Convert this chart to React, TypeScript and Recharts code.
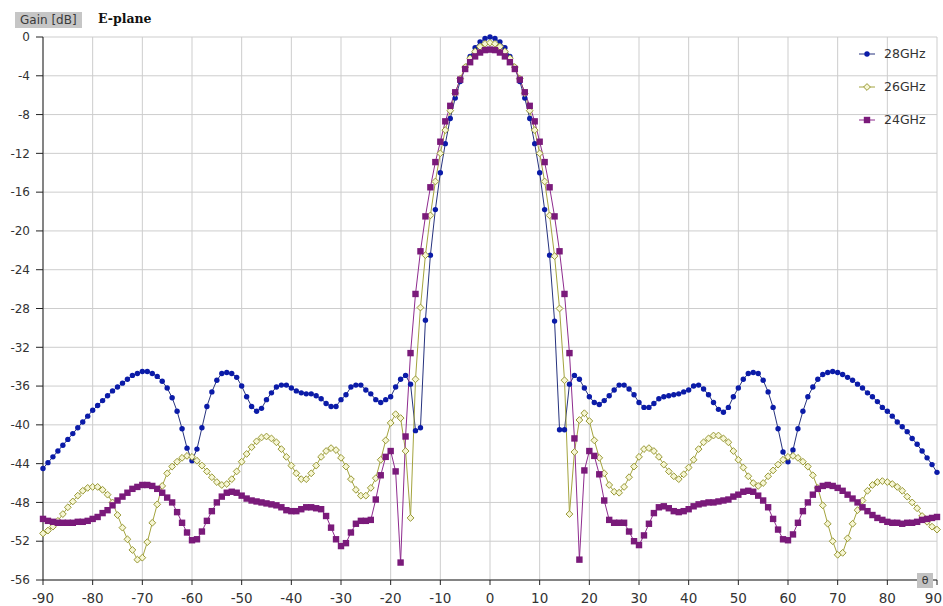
import React from "react";
import { LineChart, Line, XAxis, YAxis, CartesianGrid } from "recharts";

// angle in degrees, one sample per degree
const theta = [
  -90, -89, -88, -87, -86, -85, -84, -83, -82, -81,
  -80, -79, -78, -77, -76, -75, -74, -73, -72, -71,
  -70, -69, -68, -67, -66, -65, -64, -63, -62, -61,
  -60, -59, -58, -57, -56, -55, -54, -53, -52, -51,
  -50, -49, -48, -47, -46, -45, -44, -43, -42, -41,
  -40, -39, -38, -37, -36, -35, -34, -33, -32, -31,
  -30, -29, -28, -27, -26, -25, -24, -23, -22, -21,
  -20, -19, -18, -17, -16, -15, -14, -13, -12, -11,
  -10, -9, -8, -7, -6, -5, -4, -3, -2, -1,
  0,
  1, 2, 3, 4, 5, 6, 7, 8, 9, 10,
  11, 12, 13, 14, 15, 16, 17, 18, 19, 20,
  21, 22, 23, 24, 25, 26, 27, 28, 29, 30,
  31, 32, 33, 34, 35, 36, 37, 38, 39, 40,
  41, 42, 43, 44, 45, 46, 47, 48, 49, 50,
  51, 52, 53, 54, 55, 56, 57, 58, 59, 60,
  61, 62, 63, 64, 65, 66, 67, 68, 69, 70,
  71, 72, 73, 74, 75, 76, 77, 78, 79, 80,
  81, 82, 83, 84, 85, 86, 87, 88, 89, 90,
];

const gain28 = [
  -44.5, -43.9, -43.3, -42.7, -42.1, -41.5, -40.9, -40.3, -39.7, -39.1,
  -38.5, -38.0, -37.5, -37.0, -36.5, -36.1, -35.7, -35.3, -34.9, -34.7,
  -34.5, -34.5, -34.7, -35.0, -35.5, -36.2, -37.2, -38.6, -40.4, -42.4,
  -43.7, -42.5, -40.3, -38.1, -36.6, -35.4, -34.7, -34.6, -34.7, -35.1,
  -36.0, -37.1, -38.1, -38.6, -38.3, -37.4, -36.7, -36.1, -35.9, -35.9,
  -36.2, -36.5, -36.7, -36.8, -36.8, -37.0, -37.3, -37.8, -38.1, -38.1,
  -37.4, -36.9, -36.1, -35.9, -35.9, -36.4, -36.8, -37.4, -37.7, -37.4,
  -37.1, -36.1, -35.3, -34.9, -35.8, -40.6, -40.3, -29.2, -22.5, -17.8,
  -14.0, -11.0, -8.4, -6.3, -4.6, -3.2, -2.0, -1.1, -0.5, -0.15,
  0,
  -0.15, -0.5, -1.1, -2.0, -3.2, -4.6, -6.3, -8.4, -11.0, -14.0,
  -17.8, -22.5, -29.3, -40.5, -40.5, -35.8, -34.9, -35.3, -36.2, -37.1,
  -37.7, -37.9, -37.5, -37.0, -36.4, -35.9, -35.9, -36.3, -36.9, -37.7,
  -38.2, -38.2, -37.8, -37.3, -37.1, -37.0, -36.9, -36.8, -36.6, -36.4,
  -36.0, -35.9, -36.3, -36.9, -37.7, -38.4, -38.7, -38.2, -37.1, -36.2,
  -35.3, -34.7, -34.6, -34.7, -35.4, -36.6, -38.2, -40.4, -42.8, -43.8,
  -42.6, -40.4, -38.6, -37.1, -36.1, -35.3, -34.8, -34.6, -34.5, -34.6,
  -34.8, -35.1, -35.4, -35.8, -36.2, -36.7, -37.1, -37.6, -38.2, -38.6,
  -39.1, -39.7, -40.2, -40.7, -41.4, -42.0, -42.7, -43.4, -44.1, -44.9,
];

const gain26 = [
  -51.2, -50.9, -50.5, -49.9, -49.2, -48.5, -47.9, -47.3, -46.8, -46.5,
  -46.4, -46.4, -46.7, -47.2, -48.0, -49.3, -50.6, -51.8, -52.9, -53.9,
  -53.7, -52.1, -50.1, -48.2, -46.3, -45.0, -44.3, -43.8, -43.4, -43.2,
  -43.3, -43.7, -44.2, -44.8, -45.4, -45.9, -46.2, -46.1, -45.6, -44.8,
  -43.8, -43.0, -42.3, -41.7, -41.3, -41.2, -41.4, -41.8, -42.5, -43.3,
  -44.2, -45.0, -45.6, -45.6, -45.0, -44.2, -43.3, -42.7, -42.4, -42.6,
  -43.4, -44.3, -45.6, -46.7, -47.3, -47.3, -46.5, -45.5, -43.6, -41.6,
  -39.8, -38.9, -39.3, -42.7, -49.6, -35.3, -27.9, -22.5, -18.4, -14.9,
  -12.0, -9.6, -7.6, -5.8, -4.3, -3.1, -2.2, -1.5, -1.0, -0.7,
  -0.6,
  -0.7, -1.0, -1.5, -2.2, -3.1, -4.3, -5.8, -7.6, -9.6, -12.0,
  -14.9, -18.4, -22.6, -28.0, -35.4, -49.2, -42.8, -39.5, -38.8, -39.6,
  -41.6, -43.4, -45.0, -46.2, -46.9, -47.0, -46.4, -45.4, -44.3, -43.3,
  -42.5, -42.4, -42.7, -43.3, -44.1, -44.8, -45.3, -45.6, -45.1, -44.4,
  -43.6, -42.5, -41.8, -41.4, -41.1, -41.1, -41.4, -41.8, -42.7, -43.6,
  -44.4, -45.3, -46.0, -46.3, -46.0, -45.3, -44.7, -44.1, -43.6, -43.3,
  -43.2, -43.4, -43.8, -44.3, -45.2, -46.5, -48.3, -50.2, -52.0, -53.4,
  -53.2, -51.7, -50.2, -48.8, -47.8, -46.8, -46.2, -45.9, -45.8, -45.9,
  -46.1, -46.4, -46.8, -47.4, -48.0, -48.6, -49.4, -50.0, -50.5, -50.8,
];

const gain24 = [
  -49.7, -49.9, -50.0, -50.1, -50.1, -50.1, -50.1, -50.0, -50.0, -49.9,
  -49.7, -49.5, -49.1, -48.8, -48.3, -47.8, -47.4, -47.0, -46.6, -46.4,
  -46.2, -46.2, -46.3, -46.6, -47.0, -47.5, -48.0, -49.0, -50.1, -51.1,
  -51.9, -51.8, -51.0, -49.9, -48.9, -48.0, -47.4, -47.0, -46.9, -47.0,
  -47.3, -47.6, -47.8, -47.9, -48.0, -48.1, -48.2, -48.3, -48.5, -48.8,
  -48.9, -48.9, -48.7, -48.5, -48.5, -48.6, -48.7, -49.4, -50.6, -51.8,
  -52.5, -52.2, -51.1, -50.2, -49.9, -49.9, -49.8, -47.7, -45.2, -43.3,
  -42.7, -44.8, -54.2, -41.2, -32.6, -26.5, -22.1, -18.5, -15.5, -12.9,
  -10.8, -8.7, -7.1, -5.7, -4.4, -3.3, -2.6, -2.0, -1.6, -1.35,
  -1.3,
  -1.35, -1.6, -2.0, -2.6, -3.3, -4.4, -5.7, -7.1, -8.7, -10.8,
  -12.9, -15.5, -18.5, -22.1, -26.5, -32.6, -41.4, -53.9, -44.7, -42.7,
  -43.2, -45.1, -47.8, -49.8, -50.1, -50.1, -50.1, -51.0, -52.0, -52.4,
  -51.4, -50.2, -49.1, -48.5, -48.4, -48.6, -48.9, -49.0, -48.9, -48.7,
  -48.4, -48.2, -48.1, -48.0, -48.0, -47.9, -47.8, -47.7, -47.4, -47.2,
  -46.9, -46.8, -46.9, -47.3, -47.8, -48.5, -49.7, -50.8, -51.8, -51.9,
  -51.3, -50.1, -48.9, -48.0, -47.2, -46.6, -46.3, -46.2, -46.3, -46.5,
  -46.8, -47.2, -47.6, -48.0, -48.5, -48.9, -49.3, -49.6, -49.8, -50.0,
  -50.1, -50.1, -50.2, -50.1, -50.1, -50.0, -49.8, -49.7, -49.6, -49.5,
];

const xTicks = [-90, -80, -70, -60, -50, -40, -30, -20, -10, 0, 10, 20, 30, 40, 50, 60, 70, 80, 90];
const yTicks = [0, -4, -8, -12, -16, -20, -24, -28, -32, -36, -40, -44, -48, -52, -56];
const seriesNames = ["28GHz", "26GHz", "24GHz"];

const chartData = theta.map((t, i) => ({
  theta: t,
  g28: gain28[i],
  g26: gain26[i],
  g24: gain24[i],
}));

const BLUE_LINE = "#26327e";
const BLUE_DOT = "#0b1ba8";
const OLIVE_LINE = "#a4a43e";
const OLIVE_DOT = "#989836";
const PURPLE_LINE = "#8e2b8e";
const PURPLE_DOT = "#7a1a7a";

const CircleDot = (props: any) => {
  const { cx, cy, index } = props;
  if (cx == null || cy == null) return <g key={`c${index}`} />;
  return <circle key={`c${index}`} cx={cx} cy={cy} r={2.7} fill={BLUE_DOT} />;
};

const DiamondDot = (props: any) => {
  const { cx, cy, index } = props;
  if (cx == null || cy == null) return <g key={`d${index}`} />;
  const s = 3.4;
  return (
    <polygon
      key={`d${index}`}
      points={`${cx},${cy - s} ${cx + s},${cy} ${cx},${cy + s} ${cx - s},${cy}`}
      fill="#f6f6d4"
      stroke={OLIVE_DOT}
      strokeWidth={1}
    />
  );
};

const SquareDot = (props: any) => {
  const { cx, cy, index } = props;
  if (cx == null || cy == null) return <g key={`s${index}`} />;
  return <rect key={`s${index}`} x={cx - 3.2} y={cy - 3.2} width={6.4} height={6.4} fill={PURPLE_DOT} />;
};

// last label sits against the right edge, so anchor it at its end
const ThetaTick = (props: any) => {
  const { x, y, payload } = props;
  const last = payload.value === xTicks[xTicks.length - 1];
  return (
    <text
      x={last ? x + 5 : x}
      y={y}
      dy="0.71em"
      textAnchor={last ? "end" : "middle"}
      fill="#333"
      fontSize={13.5}
      fontFamily="DejaVu Sans"
    >
      {payload.value}
    </text>
  );
};

const legendIcons = [
  (
    <svg width={18} height={10}>
      <line x1={0} y1={5} x2={16} y2={5} stroke={BLUE_LINE} />
      <circle cx={8} cy={5} r={2.7} fill={BLUE_DOT} />
    </svg>
  ),
  (
    <svg width={18} height={10}>
      <line x1={0} y1={5} x2={16} y2={5} stroke={OLIVE_LINE} />
      <polygon points="8,1.6 11.4,5 8,8.4 4.6,5" fill="#f6f6d4" stroke={OLIVE_DOT} />
    </svg>
  ),
  (
    <svg width={18} height={10}>
      <line x1={0} y1={5} x2={16} y2={5} stroke={PURPLE_LINE} />
      <rect x={4.8} y={1.8} width={6.4} height={6.4} fill={PURPLE_DOT} />
    </svg>
  ),
];

export default function App() {
  return (
    <div style={{ position: "relative", width: 943, height: 606, background: "#fff", fontFamily: "DejaVu Sans" }}>
      <style>{"body{margin:0}"}</style>

      {/* header labels */}
      <div
        style={{
          position: "absolute",
          left: 15,
          top: 12,
          height: 16,
          padding: "0 5px",
          background: "#c6c6c6",
          color: "#3a3a3a",
          fontSize: 12,
          lineHeight: "16px",
        }}
      >
        Gain [dB]
      </div>
      <div
        style={{
          position: "absolute",
          left: 98,
          top: 11,
          fontFamily: "DejaVu Serif",
          fontWeight: "bold",
          fontSize: 12.5,
          lineHeight: "16px",
          color: "#111",
        }}
      >
        E-plane
      </div>

      <LineChart width={943} height={606} data={chartData} margin={{ top: 37, right: 6, bottom: 0, left: 0 }}>
        <CartesianGrid stroke="#cdcdcd" strokeWidth={1} />
        <XAxis
          dataKey="theta"
          type="number"
          domain={[-90, 90]}
          ticks={xTicks}
          interval={0}
          height={26}
          tickSize={5}
          tickMargin={8}
          axisLine={{ stroke: "#222" }}
          tickLine={{ stroke: "#222" }}
          tick={<ThetaTick />}
        />
        <YAxis
          type="number"
          domain={[-56, 0]}
          ticks={yTicks}
          interval={0}
          width={43}
          tickSize={7}
          tickMargin={6}
          axisLine={{ stroke: "#222" }}
          tickLine={{ stroke: "#222" }}
          tick={{ fill: "#333", fontSize: 12, fontFamily: "DejaVu Sans" }}
        />
        <Line
          dataKey="g28"
          name={seriesNames[0]}
          stroke={BLUE_LINE}
          strokeWidth={1}
          dot={CircleDot}
          activeDot={false}
          isAnimationActive={false}
        />
        <Line
          dataKey="g26"
          name={seriesNames[1]}
          stroke={OLIVE_LINE}
          strokeWidth={1}
          dot={DiamondDot}
          activeDot={false}
          isAnimationActive={false}
        />
        <Line
          dataKey="g24"
          name={seriesNames[2]}
          stroke={PURPLE_LINE}
          strokeWidth={1}
          dot={SquareDot}
          activeDot={false}
          isAnimationActive={false}
        />
      </LineChart>

      {/* legend */}
      <div style={{ position: "absolute", left: 859, top: 37 }}>
        {seriesNames.map((name, i) => (
          <div key={name} style={{ display: "flex", alignItems: "center", height: 33, color: "#333", fontSize: 12.5 }}>
            {legendIcons[i]}
            <span style={{ marginLeft: 7 }}>{name}</span>
          </div>
        ))}
      </div>

      {/* axis name */}
      <div
        style={{
          position: "absolute",
          left: 917,
          top: 573,
          width: 16,
          height: 15,
          background: "#c2c2c2",
          color: "#333",
          fontSize: 11,
          lineHeight: "15px",
          textAlign: "center",
        }}
      >
        θ
      </div>
    </div>
  );
}
